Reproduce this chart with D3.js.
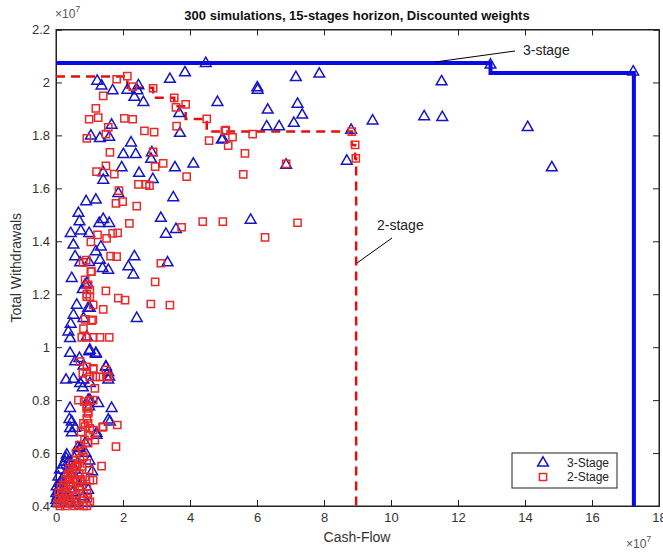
<!DOCTYPE html>
<html>
<head>
<meta charset="utf-8">
<script src="https://d3js.org/d3.v7.min.js"></script>
<style>
  body { margin: 0; background: #fff; }
  text { font-family: "Liberation Sans", Arial, Helvetica, sans-serif; }
</style>
</head>
<body>
<script>
// values in units of 1e7
var xTicks = [0, 2, 4, 6, 8, 10, 12, 14, 16, 18]
var yTicks = [0.4, 0.6, 0.8, 1, 1.2, 1.4, 1.6, 1.8, 2, 2.2]
var seriesNames = ["3-Stage", "2-Stage"]

var stage3 = [
  [4.47,2.072],[3.85,2.037],[3.40,2.012],[1.23,2.005],[1.36,1.987],[1.69,1.969],[2.13,1.971],[2.46,1.988],
  [2.43,1.969],[2.34,1.944],[2.61,1.925],[4.82,1.925],[3.68,1.883],[3.70,1.808],[1.66,1.839],[1.04,1.798],
  [1.31,1.789],[1.59,1.793],[4.95,1.783],[2.24,1.772],[2.01,1.728],[2.38,1.728],[2.86,1.735],[2.84,1.710],
  [1.96,1.678],[3.55,1.678],[4.10,1.692],[1.41,1.659],[1.41,1.631],[2.48,1.657],[2.89,1.634],[1.86,1.581],
  [3.50,1.565],[0.90,1.550],[1.19,1.556],[0.67,1.506],[1.41,1.483],[3.13,1.487],
  [7.16,2.019],[7.86,2.032],[6.01,1.980],[6.02,1.971],[6.32,1.896],[7.21,1.918],[7.35,1.877],[6.29,1.833],
  [6.66,1.833],[7.10,1.846],[8.81,1.820],[9.45,1.855],[11.51,2.003],[10.99,1.871],[11.53,1.868],[4.98,1.786],
  [6.87,1.688],[8.68,1.703],[5.81,1.480],[12.97,2.066],[17.23,2.040],[14.08,1.830],[14.80,1.678],
  [3.28,1.427],[3.58,1.445],[3.33,1.319],
  [0.70,1.474],[1.29,1.468],[1.59,1.468],[0.44,1.430],[0.74,1.439],[0.99,1.430],[0.52,1.386],[1.34,1.379],
  [1.19,1.361],[0.57,1.342],[1.31,1.329],[0.72,1.319],[0.99,1.320],[1.39,1.298],[1.56,1.291],[2.34,1.342],
  [2.16,1.304],[2.31,1.273],[0.47,1.260],[0.92,1.241],[0.80,1.218],[0.62,1.159],[1.01,1.147],[2.41,1.109],
  [0.52,1.121],[0.44,1.087],[0.37,1.058],[0.42,1.033],[0.92,1.039],
  [0.87,1.235],[0.96,1.147],[0.82,1.109],[1.01,0.989],[1.19,0.977],[1.49,0.926],[1.59,0.888],[1.56,0.876],
  [0.82,0.876],[1.01,0.863],[1.01,0.800],[1.26,0.788],[1.66,0.769],
  [0.42,0.977],[0.57,0.945],[0.70,0.958],[0.82,0.929],[0.99,0.983],[1.19,0.974],[1.49,0.924],[1.56,0.905],
  [0.30,0.876],[0.52,0.879],[0.72,0.863],[0.80,0.847],[0.96,0.800],[0.99,0.775],[0.42,0.769],
  [1.56,0.725],[0.40,0.727],[0.47,0.718],[0.42,0.693],[0.47,0.677],[1.21,0.668],[0.87,0.637],[0.72,0.618],
  [0.62,0.599],[0.30,0.580],[0.22,0.555],[0.37,0.567],[0.12,0.536],[0.07,0.510],[0.17,0.498],[0.02,0.473],
  [0.01,0.448],[0.04,0.435],[0.01,0.422],[0.52,0.548],[0.62,0.498],[0.70,0.473],[0.82,0.435],[0.60,0.410],
  [0.96,0.460],[0.92,0.410],
  [0.57,0.694],[1.61,0.718],[1.21,0.675],[0.32,0.593],[0.27,0.567],[0.42,0.561],[0.57,0.536],[0.77,0.492],
  [0.12,0.486],[0.07,0.454],[0.02,0.41],
  [0.15,0.44],[0.25,0.46],[0.35,0.50],[0.45,0.52],[0.30,0.43],[0.50,0.45],[0.40,0.41],[0.20,0.42],
  [0.55,0.58],[0.65,0.62],[0.28,0.52],[0.10,0.47],[1.08,0.53],[1.00,0.57],[0.88,0.60]
]

var stage2 = [
  [1.81,2.012],[2.13,2.024],[2.29,1.984],[2.90,1.978],[3.53,1.942],[3.87,1.917],[3.58,1.906],[1.41,1.949],
  [1.19,1.902],[0.99,1.861],[1.26,1.867],[1.56,1.830],[2.04,1.864],[2.29,1.861],[2.64,1.817],[2.93,1.812],
  [3.60,1.835],[4.50,1.862],[5.04,1.817],[5.27,1.793],[4.57,1.780],[5.14,1.761],[0.92,1.789],[1.49,1.805],
  [1.61,1.736],[2.90,1.738],[2.96,1.682],[3.20,1.694],[1.21,1.663],[1.49,1.685],[1.74,1.654],[3.90,1.644],
  [2.46,1.615],[2.69,1.615],[2.79,1.610],[1.88,1.591],[1.79,1.543],[1.99,1.550],[2.41,1.533],
  [5.07,1.820],[5.87,1.805],[5.64,1.732],[5.59,1.653],[6.87,1.692],[8.83,1.814],[8.93,1.764],[8.95,1.713],
  [4.38,1.474],[4.98,1.474],[7.21,1.470],[6.24,1.415],[3.75,1.453],[3.13,1.317],[2.96,1.247],[2.83,1.163],
  [3.40,1.159],
  [2.19,1.468],[1.24,1.424],[1.51,1.411],[1.69,1.430],[1.84,1.432],[1.04,1.398],[1.63,1.344],[1.81,1.342],
  [0.90,1.329],[1.04,1.285],[0.87,1.254],[0.96,1.235],[1.01,1.216],[0.92,1.191],[1.49,1.213],[1.86,1.185],
  [2.06,1.178],[1.41,1.143],[0.87,1.105],[1.10,1.103],[0.77,1.037],[0.92,1.037],[1.11,1.037],[1.31,1.037],
  [1.59,1.037],
  [0.81,1.32],[1.06,1.285],[0.92,1.20],[1.01,1.19],[1.11,1.16],[1.06,1.10],[0.82,1.07],[1.11,0.92],
  [0.92,0.907],[1.31,0.888],[1.51,0.888],[1.16,0.844],[1.01,0.80],[0.92,0.775],[0.96,0.757],
  [0.72,0.945],[0.92,0.926],[1.11,0.916],[1.01,0.888],[1.19,0.888],[0.80,0.901],[1.49,0.914],[1.56,0.888],
  [0.67,0.800],[0.84,0.794],[1.11,0.800],[0.92,0.769],[0.96,0.750],[0.92,0.731],[0.96,0.712],[0.87,0.700],
  [1.11,0.687],[1.39,0.697],[1.83,0.706],[1.79,0.624],[1.01,0.668],[1.16,0.649],[0.96,0.637],[1.36,0.551],
  [0.82,0.586],[0.92,0.561],[0.99,0.536],[0.87,0.510],[1.01,0.498],[0.77,0.473],[0.92,0.448],[0.62,0.548],
  [0.47,0.523],[0.72,0.498],[0.95,0.430],[0.92,0.40],
  [0.82,0.712],[1.01,0.693],[1.41,0.700],[1.11,0.498],[0.92,0.473],[0.82,0.448],[1.01,0.416],[0.67,0.404],
  [0.82,0.40],
  [0.05,0.41],[0.12,0.40],[0.20,0.41],[0.28,0.40],[0.35,0.42],[0.45,0.41],[0.55,0.40],[0.62,0.42],
  [0.10,0.43],[0.18,0.44],[0.25,0.43],[0.32,0.45],[0.40,0.44],[0.50,0.46],[0.58,0.44],[0.68,0.46],
  [0.15,0.47],[0.22,0.48],[0.30,0.47],[0.38,0.49],[0.45,0.48],[0.55,0.50],[0.63,0.49],[0.35,0.52],
  [0.42,0.51],[0.50,0.53],[0.58,0.55],[0.28,0.50],[0.08,0.45],[0.70,0.52],[0.75,0.50],[0.65,0.56],
  [0.72,0.58],[0.78,0.55],[0.48,0.56],[0.40,0.54],[0.60,0.60],[0.70,0.63],[0.78,0.61],[0.85,0.65],[0.75,0.68]
]

// pareto frontiers, drawn as stairs
var frontier3 = [[0,2.073],[12.97,2.036],[17.25,0.4]]
var frontier2 = [[0,2.022],[2.13,1.98],[2.90,1.942],[3.53,1.91],[3.87,1.862],[4.50,1.815],[8.83,1.764],[8.93,1.713],[8.96,0.4]]

var width = 663, height = 553
var padL = 56, padR = 659, padT = 29.5, padB = 506

var svg = d3.select("body").append("svg")
  .attr("width", width)
  .attr("height", height)

var x = d3.scaleLinear().domain([0, 18]).range([padL, padR])
var y = d3.scaleLinear().domain([0.4, 2.2]).range([padB, padT])

var fmt = function(d) { return String(+d.toFixed(1)) }

svg.append("g").attr("transform", "translate(0," + padB + ")")
  .call(d3.axisBottom(x).tickValues(xTicks).tickSize(-6).tickPadding(7).tickFormat(fmt))
svg.append("g").attr("transform", "translate(0," + padT + ")")
  .call(d3.axisTop(x).tickValues(xTicks).tickSize(-6).tickFormat(""))
svg.append("g").attr("transform", "translate(" + padL + ",0)")
  .call(d3.axisLeft(y).tickValues(yTicks).tickSize(-6).tickPadding(6).tickFormat(fmt))
svg.append("g").attr("transform", "translate(" + padR + ",0)")
  .call(d3.axisRight(y).tickValues(yTicks).tickSize(-6).tickFormat(""))

svg.selectAll(".domain").attr("stroke", "#222")
svg.selectAll(".tick line").attr("stroke", "#222")
svg.selectAll(".tick text").style("font-size", "13px").attr("fill", "#333")

svg.append("rect")
  .attr("x", padL).attr("y", padT)
  .attr("width", padR - padL).attr("height", padB - padT)
  .attr("fill", "none").attr("stroke", "#222")

var stairs = d3.line().x(function(d) { return x(d[0]) }).y(function(d) { return y(d[1]) }).curve(d3.curveStepAfter)

svg.append("path").datum(frontier3)
  .attr("d", stairs).attr("fill", "none").attr("stroke", "#0a0ae6").attr("stroke-width", 4)
svg.append("path").datum(frontier2)
  .attr("d", stairs).attr("fill", "none").attr("stroke", "#e01010").attr("stroke-width", 2.5)
  .attr("stroke-dasharray", "9,6")

var tri = d3.symbol().type(d3.symbolTriangle).size(50)
var sq = d3.symbol().type(d3.symbolSquare).size(52)

svg.append("g").selectAll("path").data(stage3).enter().append("path")
  .attr("d", tri)
  .attr("transform", function(d) { return "translate(" + x(d[0]) + "," + y(d[1]) + ")" })
  .attr("fill", "none").attr("stroke", "#1515c8").attr("stroke-width", 1.5)

svg.append("g").selectAll("path").data(stage2).enter().append("path")
  .attr("d", sq)
  .attr("transform", function(d) { return "translate(" + x(d[0]) + "," + y(d[1]) + ")" })
  .attr("fill", "none").attr("stroke", "#ea2a2a").attr("stroke-width", 1.5)

// annotations
svg.append("line").attr("x1", 435).attr("y1", 62).attr("x2", 515).attr("y2", 51).attr("stroke", "#000")
svg.append("text").attr("x", 523).attr("y", 55).style("font-size", "14px").attr("fill", "#222").text("3-stage")
svg.append("line").attr("x1", 392).attr("y1", 238).attr("x2", 357).attr("y2", 263).attr("stroke", "#000")
svg.append("text").attr("x", 377).attr("y", 230).style("font-size", "14px").attr("fill", "#222").text("2-stage")

// legend
var lg = svg.append("g")
lg.append("rect").attr("x", 512).attr("y", 453).attr("width", 105).attr("height", 35)
  .attr("fill", "#fff").attr("stroke", "#222")
lg.append("path").attr("d", tri).attr("transform", "translate(543,463)")
  .attr("fill", "none").attr("stroke", "#1515c8").attr("stroke-width", 1.5)
lg.append("path").attr("d", sq).attr("transform", "translate(543,477)")
  .attr("fill", "none").attr("stroke", "#ea2a2a").attr("stroke-width", 1.5)
lg.selectAll("text").data(seriesNames).enter().append("text")
  .attr("x", 567).attr("y", function(d, i) { return 467 + i * 14 })
  .style("font-size", "12px").attr("fill", "#222").text(function(d) { return d })

// title and labels
svg.append("text").attr("x", 357).attr("y", 20).attr("text-anchor", "middle")
  .style("font-size", "13px").style("font-weight", "bold").attr("fill", "#111")
  .text("300 simulations, 15-stages horizon, Discounted weights")
svg.append("text").attr("x", 357).attr("y", 542).attr("text-anchor", "middle")
  .style("font-size", "14px").attr("fill", "#333").text("Cash-Flow")
svg.append("text").attr("transform", "translate(21," + ((padT + padB) / 2) + ") rotate(-90)")
  .attr("text-anchor", "middle").style("font-size", "14px").attr("fill", "#333").text("Total Withdrawals")

var exp1 = svg.append("text").attr("x", 55).attr("y", 18).style("font-size", "12px").attr("fill", "#555")
exp1.append("tspan").text("\u00d710")
exp1.append("tspan").attr("dy", -6).style("font-size", "9px").text("7")
var exp2 = svg.append("text").attr("x", 626).attr("y", 548).style("font-size", "12px").attr("fill", "#555")
exp2.append("tspan").text("\u00d710")
exp2.append("tspan").attr("dy", -6).style("font-size", "9px").text("7")
</script>
</body>
</html>
